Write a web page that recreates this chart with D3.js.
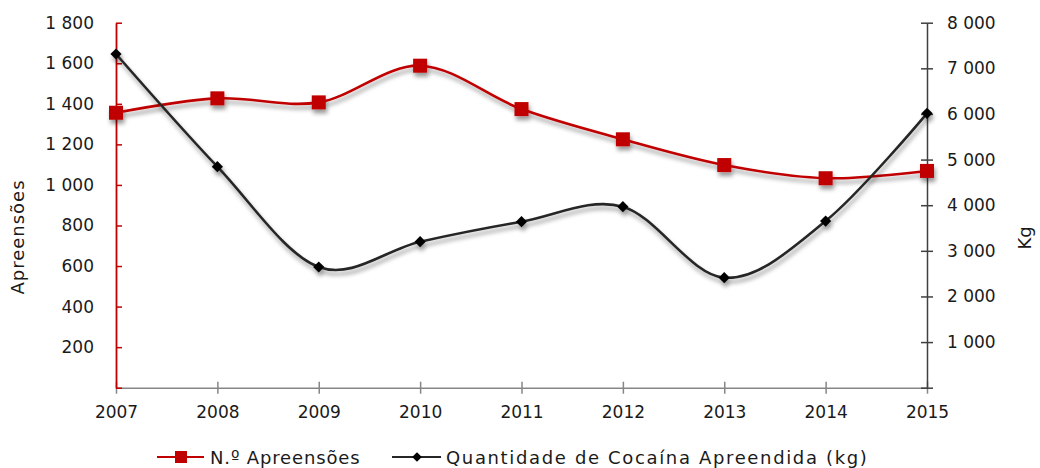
<!DOCTYPE html>
<html><head><meta charset="utf-8">
<script src="https://cdn.jsdelivr.net/npm/d3@7/dist/d3.min.js"></script>
<style>
body{margin:0;background:#fff}
svg text{font-family:"DejaVu Sans",sans-serif;fill:#1a1a1a}
</style>
</head><body>
<svg id="chart" width="1040" height="468"></svg>
<script>
const years = [2007, 2008, 2009, 2010, 2011, 2012, 2013, 2014, 2015];
const apreensoes = [1356, 1427, 1407, 1588, 1374, 1225, 1098, 1033, 1069];
const cocainaKg = [7314, 4844, 2645, 3200, 3638, 3967, 2411, 3653, 6014];
const leftTicks = [0, 200, 400, 600, 800, 1000, 1200, 1400, 1600, 1800];
const rightTicks = [0, 1000, 2000, 3000, 4000, 5000, 6000, 7000, 8000];
const seriesNames = ["N.º Apreensões", "Quantidade de Cocaína Apreendida (kg)"];
const leftTitle = "Apreensões";
const rightTitle = "Kg";

const RED = "#c00000", DARK = "#262626";
const svg = d3.select("#chart");
const fs = 17;

const x = d3.scalePoint().domain(years).range([116, 927]);
const yL = d3.scaleLinear().domain([0, 1800]).range([387.7, 22.7]);
const yR = d3.scaleLinear().domain([0, 8000]).range([387.7, 22.7]);

const loc = d3.formatLocale({decimal: ",", thousands: "\u00a0", grouping: [3], currency: ["", ""]});
const fmt = loc.format(",d");

// shadow filter
const defs = svg.append("defs");
const f = defs.append("filter").attr("id", "sh").attr("x", "-20%").attr("y", "-20%").attr("width", "140%").attr("height", "160%");
f.append("feDropShadow").attr("dx", 1.5).attr("dy", 4).attr("stdDeviation", 2.2)
  .attr("flood-color", "#000").attr("flood-opacity", 0.4);

// x axis
const xAxis = svg.append("g").attr("transform", `translate(0,${yL(0)})`)
  .call(d3.axisBottom(x).tickSizeInner(6).tickSizeOuter(0).tickPadding(12));
xAxis.select(".domain").attr("stroke", "#868686").attr("stroke-width", 1.5);
xAxis.selectAll(".tick line").attr("stroke", "#868686").attr("stroke-width", 1.5).attr("y1", -6);
xAxis.selectAll(".tick text").attr("font-size", fs).attr("fill", "#1a1a1a");

// left axis
const lAxis = svg.append("g").attr("transform", `translate(${x(years[0])},0)`)
  .call(d3.axisLeft(yL).tickValues(leftTicks).tickSizeInner(6).tickSizeOuter(0).tickPadding(16)
    .tickFormat(d => d === 0 ? "" : fmt(d)));
lAxis.select(".domain").attr("stroke", RED).attr("stroke-width", 1.8);
lAxis.selectAll(".tick line").attr("stroke", RED).attr("stroke-width", 1.5).attr("x2", 6);
lAxis.selectAll(".tick text").attr("font-size", fs).attr("fill", "#1a1a1a");

// right axis
const rAxis = svg.append("g").attr("transform", `translate(${x(years[years.length - 1])},0)`)
  .call(d3.axisRight(yR).tickValues(rightTicks).tickSizeInner(6).tickSizeOuter(0).tickPadding(14)
    .tickFormat(d => d === 0 ? "" : fmt(d)));
rAxis.select(".domain").attr("stroke", "#404040").attr("stroke-width", 1.5);
rAxis.selectAll(".tick line").attr("stroke", "#404040").attr("stroke-width", 1.5).attr("x2", 6).attr("x1", -6);
rAxis.selectAll(".tick text").attr("font-size", fs).attr("fill", "#1a1a1a");

// axis titles
svg.append("text").attr("transform", "translate(24,237) rotate(-90)")
  .attr("text-anchor", "middle").attr("font-size", 18).attr("letter-spacing", 1).text(leftTitle);
svg.append("text").attr("transform", "translate(1031,238) rotate(-90)")
  .attr("text-anchor", "middle").attr("font-size", 18).text(rightTitle);

const curve = d3.curveCardinal.tension(0);

// red series
const gRed = svg.append("g").attr("filter", "url(#sh)");
gRed.append("path").datum(years.map((y, i) => [y, apreensoes[i]]))
  .attr("fill", "none").attr("stroke", RED).attr("stroke-width", 2.6)
  .attr("d", d3.line().x(d => x(d[0])).y(d => yL(d[1])).curve(curve));
gRed.selectAll("rect").data(years.map((y, i) => [y, apreensoes[i]])).join("rect")
  .attr("x", d => x(d[0]) - 7).attr("y", d => yL(d[1]) - 7)
  .attr("width", 14).attr("height", 14).attr("fill", RED);

// black series
const gBlk = svg.append("g").attr("filter", "url(#sh)");
gBlk.append("path").datum(years.map((y, i) => [y, cocainaKg[i]]))
  .attr("fill", "none").attr("stroke", DARK).attr("stroke-width", 2.6)
  .attr("d", d3.line().x(d => x(d[0])).y(d => yR(d[1])).curve(curve));
const diamond = d3.symbol().type(d3.symbolDiamond2).size(80);
gBlk.selectAll("path.m").data(years.map((y, i) => [y, cocainaKg[i]])).join("path")
  .attr("class", "m")
  .attr("transform", d => `translate(${x(d[0])},${yR(d[1])})`)
  .attr("d", diamond).attr("fill", "#000");

// legend
const lg = svg.append("g");
lg.append("line").attr("x1", 157).attr("x2", 204).attr("y1", 457).attr("y2", 457).attr("stroke", RED).attr("stroke-width", 2);
lg.append("rect").attr("x", 175).attr("y", 451).attr("width", 12).attr("height", 12).attr("fill", RED);
lg.append("text").attr("x", 210).attr("y", 463.5).attr("font-size", 18).attr("letter-spacing", 0.85).text(seriesNames[0]);
lg.append("line").attr("x1", 392).attr("x2", 441).attr("y1", 457).attr("y2", 457).attr("stroke", DARK).attr("stroke-width", 2);
lg.append("path").attr("transform", "translate(417,457)").attr("d", d3.symbol().type(d3.symbolDiamond2).size(60)).attr("fill", "#000");
lg.append("text").attr("x", 446).attr("y", 463.5).attr("font-size", 18).attr("letter-spacing", 1.65).text(seriesNames[1]);
</script>
</body></html>
